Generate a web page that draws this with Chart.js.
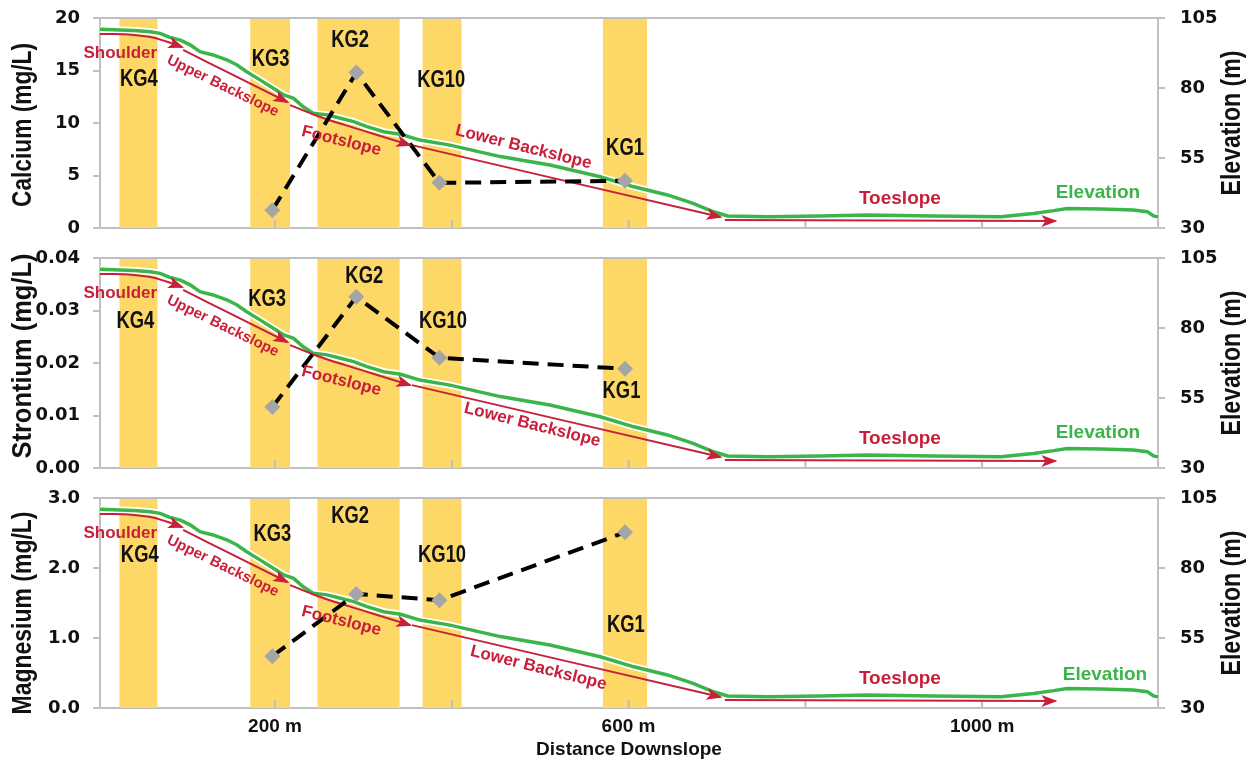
<!DOCTYPE html>
<html>
<head>
<meta charset="utf-8">
<script src="https://cdn.jsdelivr.net/npm/chart.js@4.4.1/dist/chart.umd.min.js"></script>
<style>
  body { margin: 0; background: #fff; width: 1255px; height: 765px; overflow: hidden; position: relative; }
  canvas { position: absolute; left: 0; }
</style>
</head>
<body>
<canvas id="ca" width="1255" height="240" style="top:0"></canvas>
<canvas id="sr" width="1255" height="240" style="top:240px"></canvas>
<canvas id="mg" width="1255" height="285" style="top:480px"></canvas>
<script>
/* Ca / Sr / Mg along the hillslope transect, with elevation profile */

// elevation profile (m) vs distance downslope (m)
const distance = [2, 25, 40, 59, 70, 81, 93, 104, 115, 130, 146, 157, 168, 183, 198, 210, 221, 232, 243, 259,
  274, 289, 304, 323, 342, 364, 398, 455, 511, 568, 605, 644, 673, 696, 712, 757, 817, 870, 945, 1021,
  1058, 1081, 1096, 1134, 1171, 1187, 1194, 1199];
const elevation = [101.0, 100.7, 100.5, 100.1, 99.5, 98.1, 97.1, 95.4, 93.0, 91.8, 90.0, 88.2, 85.8, 82.9, 79.9, 77.5, 76.3, 73.3, 71.0, 70.4,
  69.2, 68.0, 66.2, 64.4, 63.5, 61.4, 59.6, 55.5, 52.5, 48.3, 44.8, 41.8, 38.8, 35.8, 34.3, 34.0, 34.3, 34.6, 34.3, 34.0,
  35.2, 36.2, 37.0, 36.8, 36.4, 35.8, 34.3, 34.0];

// sampled sites
const sites = ["KG3", "KG2", "KG10", "KG1"];
const siteDistance = [197, 292, 386, 596];
const calcium = [1.7, 14.8, 4.3, 4.5];
const strontium = [0.0116, 0.0326, 0.021, 0.0189];
const magnesium = [0.74, 1.63, 1.54, 2.51];

// site bands (m)
const bandNames = ["KG4", "KG3", "KG2", "KG10", "KG1"];
const bandStart = [24, 172, 248, 367, 571];
const bandEnd = [67, 217, 341, 411, 621];

// slope positions, arrows drawn on the elevation axis
const slopeNames = ["Shoulder", "Upper Backslope", "Footslope", "Lower Backslope", "Toeslope"];
const slopePaths = [
  [[2, 99.3], [30, 99.2], [59, 98.2], [78, 96.5], [95, 94.6]],
  [[96, 93.6], [153, 84.6], [214, 75.0]],
  [[217, 73.9], [248, 70.0], [285, 66.2], [322, 62.6], [353, 59.6]],
  [[355, 59.6], [704, 33.9]],
  [[709, 32.9], [1083, 32.5]],
];

const xTicks = [200, 400, 600, 800, 1000];
const xLabels = { 200: "200 m", 600: "600 m", 1000: "1000 m" };
const elevTicks = [30, 55, 80, 105];

const YELLOW = "#fdd867";
const GREEN = "#3bb54a";
const RED = "#c8203a";
const AXIS = "#bfbfbf";
const INK = "#111";
const SANS = "'Liberation Sans', Arial, sans-serif";
const TICKFONT = { family: "'DejaVu Sans', Verdana, sans-serif", size: 18, weight: "bold" };

function text(ctx, s, x, y, font, color, angle = 0, squeeze = 1, len = 0) {
  ctx.save();
  ctx.translate(x, y);
  ctx.rotate((angle * Math.PI) / 180);
  ctx.font = font;
  if (len) squeeze = len / ctx.measureText(s).width;
  ctx.scale(squeeze, 1);
  ctx.fillStyle = color;
  ctx.textAlign = "center";
  ctx.textBaseline = "middle";
  ctx.fillText(s, 0, 0);
  ctx.restore();
}

// keep tick labels from shrinking the plot area
function noPad(s) {
  s.paddingTop = 0;
  s.paddingBottom = 0;
  s.paddingLeft = 0;
  s.paddingRight = 0;
}

const overlay = {
  id: "overlay",
  beforeDatasetsDraw(chart) {
    const { ctx, chartArea: a, scales } = chart;
    ctx.save();
    ctx.fillStyle = YELLOW;
    bandStart.forEach((b, i) => {
      const x0 = scales.x.getPixelForValue(b), x1 = scales.x.getPixelForValue(bandEnd[i]);
      ctx.fillRect(x0, a.top, x1 - x0, a.bottom - a.top);
    });
    ctx.strokeStyle = AXIS;
    ctx.lineWidth = 2;
    ctx.beginPath();
    ctx.moveTo(a.left, a.top);
    ctx.lineTo(a.right, a.top);
    xTicks.forEach((t) => {
      const x = scales.x.getPixelForValue(t);
      ctx.moveTo(x, a.bottom);
      ctx.lineTo(x, a.bottom - 8);
    });
    ctx.stroke();
    ctx.restore();
  },
  afterDatasetsDraw(chart, args, opts) {
    const { ctx, chartArea: a, scales } = chart;
    const px = (m) => scales.x.getPixelForValue(m);
    const py = (e) => scales.elev.getPixelForValue(e);

    // arrow heads
    chart.data.datasets.forEach((ds, i) => {
      if (!ds.arrow) return;
      const pts = chart.getDatasetMeta(i).data;
      const end = pts[pts.length - 1], prev = pts[pts.length - 2];
      const useCp = end.cp1x !== undefined && Math.abs(end.cp1x - end.x) > 1;
      const fx = useCp ? end.cp1x : prev.x;
      const fy = useCp ? end.cp1y : prev.y;
      const ang = Math.atan2(end.y - fy, end.x - fx);
      ctx.save();
      ctx.translate(end.x, end.y);
      ctx.rotate(ang);
      ctx.fillStyle = RED;
      ctx.beginPath();
      ctx.moveTo(2, 0);
      ctx.lineTo(-14, -6);
      ctx.lineTo(-10, 0);
      ctx.lineTo(-14, 6);
      ctx.closePath();
      ctx.fill();
      ctx.restore();
    });

    // site labels
    const kgFont = "bold 23px " + SANS;
    bandNames.forEach((n, i) => {
      const [m, e] = opts.kg[i];
      text(ctx, n, px(m), py(e), kgFont, INK, 0, 0.8);
    });

    // slope labels
    text(ctx, slopeNames[0], px(25), py(92.5), "bold 17px " + SANS, RED);
    text(ctx, slopeNames[1], px(141), py(80.7), "bold 15px " + SANS, RED, 26);
    text(ctx, slopeNames[2], px(275), py(61.1), "bold 17px " + SANS, RED, 14);
    text(ctx, slopeNames[3], px(opts.lower[0]), py(opts.lower[1]), "bold 17px " + SANS, RED, 14);
    text(ctx, slopeNames[4], px(907), py(40.4), "bold 19px " + SANS, RED);
    text(ctx, "Elevation", px(opts.elev[0]), py(opts.elev[1]), "bold 19px " + SANS, GREEN);

    // axis titles
    const mid = (a.top + a.bottom) / 2;
    text(ctx, opts.title, 23, mid + opts.titleShift, "bold 28px " + SANS, INK, -90, 1, opts.titleLen);
    text(ctx, "Elevation (m)", 1232, mid, "bold 28px " + SANS, INK, -90, 1, 145);
  },
};

function makePanel(id, cfg) {
  const elevPts = distance.map((d, i) => ({ x: d, y: elevation[i] }));
  const datasets = [
    {
      data: siteDistance.map((d, i) => ({ x: d, y: cfg.values[i] })),
      yAxisID: "y",
      borderColor: "#000",
      borderWidth: 4,
      borderDash: [16, 9],
      pointStyle: "rectRot",
      pointRadius: 8,
      pointBackgroundColor: "#a5a5a5",
      pointBorderColor: "#a5a5a5",
      pointBorderWidth: 0,
      order: 0,
    },
  ];
  slopePaths.forEach((p) => {
    datasets.push({
      data: p.map(([x, y]) => ({ x, y })),
      yAxisID: "elev",
      borderColor: RED,
      borderWidth: 2,
      pointRadius: 0,
      tension: 0.4,
      arrow: true,
      order: 1,
    });
  });
  datasets.push({ data: elevPts, yAxisID: "elev", borderColor: GREEN, borderWidth: 3.5, pointRadius: 0, order: 2 });
  datasets.push({ data: elevPts, yAxisID: "elev", borderColor: "#fff", borderWidth: 7, pointRadius: 0, order: 3 });

  return new Chart(document.getElementById(id), {
    type: "line",
    data: { datasets },
    plugins: [overlay],
    options: {
      responsive: false,
      animation: false,
      layout: { padding: { top: 18, left: 0, right: 0, bottom: 0 } },
      plugins: { legend: { display: false }, tooltip: { enabled: false }, overlay: cfg },
      scales: {
        x: {
          type: "linear",
          min: 2,
          max: 1199,
          afterBuildTicks: (s) => { s.ticks = xTicks.map((v) => ({ value: v })); },
          afterFit: (s) => { s.height = cfg.bottom ? 57 : 12; noPad(s); },
          grid: { display: false, drawTicks: false },
          border: { display: true, color: AXIS, width: 2 },
          ticks: {
            display: !!cfg.bottom,
            padding: 7,
            color: INK,
            maxRotation: 0,
            autoSkip: false,
            font: { family: SANS, size: 19, weight: "bold" },
            callback: (v) => xLabels[v] || "",
          },
          title: {
            display: !!cfg.bottom,
            text: "Distance Downslope",
            color: INK,
            font: { family: SANS, size: 19, weight: "bold" },
            padding: { top: 0, bottom: 4 },
          },
        },
        y: {
          position: "left",
          min: 0,
          max: cfg.max,
          afterFit: (s) => { s.width = 100; noPad(s); },
          ticks: { stepSize: cfg.step, padding: 13, color: INK, font: TICKFONT, callback: (v) => v.toFixed(cfg.dec) },
          grid: { drawOnChartArea: false, drawTicks: true, tickLength: 7, color: AXIS, lineWidth: 2 },
          border: { display: true, color: AXIS, width: 2 },
        },
        elev: {
          position: "right",
          min: 30,
          max: 105,
          afterFit: (s) => { s.width = 97; noPad(s); },
          afterBuildTicks: (s) => { s.ticks = elevTicks.map((v) => ({ value: v })); },
          ticks: { padding: 15, color: INK, font: TICKFONT },
          grid: { drawOnChartArea: false, drawTicks: true, tickLength: 7, color: AXIS, lineWidth: 2 },
          border: { display: true, color: AXIS, width: 2 },
        },
      },
    },
  });
}

makePanel("ca", {
  values: calcium, max: 20, step: 5, dec: 0,
  title: "Calcium (mg/L)", titleLen: 164, titleShift: 2,
  kg: [[46, 82.9], [195, 90.0], [285, 96.8], [388, 82.5], [596, 58.2]],
  lower: [481, 58.9], elev: [1131, 42.5],
});
makePanel("sr", {
  values: strontium, max: 0.04, step: 0.01, dec: 2,
  title: "Strontium (mg/L)", titleLen: 205, titleShift: -7,
  kg: [[42, 82.1], [191, 90.0], [301, 98.2], [390, 82.1], [592, 57.1]],
  lower: [491, 45.4], elev: [1131, 42.5],
});
makePanel("mg", {
  values: magnesium, max: 3, step: 1, dec: 1, bottom: true,
  title: "Magnesium (mg/L)", titleLen: 203, titleShift: 10,
  kg: [[47, 84.3], [197, 91.8], [285, 98.2], [389, 84.3], [597, 59.3]],
  lower: [498, 44.3], elev: [1139, 41.8],
});
</script>
</body>
</html>
